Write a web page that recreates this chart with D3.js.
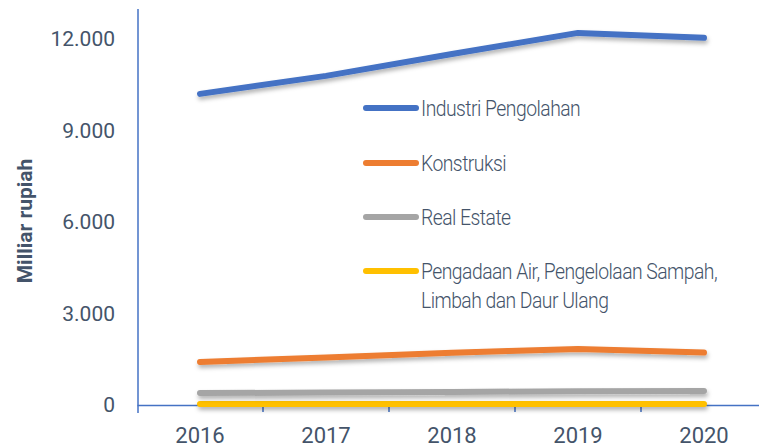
<!DOCTYPE html>
<html>
<head>
<meta charset="utf-8">
<script src="https://cdn.jsdelivr.net/npm/d3@7"></script>
<style>
  html, body { margin: 0; padding: 0; background: #fff; }
  svg { display: block; }
</style>
</head>
<body>
<svg id="chart" width="759" height="447"></svg>
<script>
// Tahun dan nilai per sektor (miliar rupiah)
const years = ["2016", "2017", "2018", "2019", "2020"];
const industriPengolahan = [10200, 10790, 11510, 12200, 12040];
const konstruksi = [1410, 1560, 1710, 1840, 1720];
const realEstate = [390, 410, 430, 450, 460];
const pengadaanAir = [30, 30, 30, 30, 30];
const yTicks = [0, 3000, 6000, 9000, 12000];
const seriesNames = [
  "Industri Pengolahan",
  "Konstruksi",
  "Real Estate",
  "Pengadaan Air, Pengelolaan Sampah, Limbah dan Daur Ulang"
];
const seriesColors = ["#4472C4", "#ED7D31", "#A5A5A5", "#FFC000"];

const series = [industriPengolahan, konstruksi, realEstate, pengadaanAir]
  .map((values, i) => ({ name: seriesNames[i], color: seriesColors[i], values }));

const svg = d3.select("#chart");
const textColor = "#44546A";
const axisColor = "#4472C4";
const font = "Roboto, 'Noto Sans', sans-serif";

const x = d3.scaleBand().domain(years).range([137, 767]).padding(0);
const y = d3.scaleLinear().domain([0, 12000]).range([405, 39]);

// soft drop shadow under the lines (user-space region so flat lines still render)
const defs = svg.append("defs");
const f = defs.append("filter").attr("id", "shadow")
  .attr("filterUnits", "userSpaceOnUse")
  .attr("x", 0).attr("y", 0).attr("width", 759).attr("height", 447);
f.append("feDropShadow").attr("dx", 1).attr("dy", 3).attr("stdDeviation", 2)
  .attr("flood-color", "#000").attr("flood-opacity", 0.3);

// y axis line (no ticks)
svg.append("line")
  .attr("x1", 138).attr("x2", 138).attr("y1", 9).attr("y2", 413)
  .attr("stroke", axisColor).attr("stroke-width", 1.5);

// y tick labels
const fmt = v => d3.format(",")(v).replace(/,/g, ".");
svg.append("g").selectAll("text").data(yTicks).join("text")
  .attr("x", 115).attr("y", d => y(d))
  .attr("dy", "0.35em")
  .attr("text-anchor", "end")
  .attr("font-family", font)
  .attr("font-size", 21)
  .attr("fill", textColor)
  .text(fmt);

// x axis
const xAxis = d3.axisBottom(x).tickSize(0).tickPadding(0);
const gx = svg.append("g").attr("transform", `translate(0,${y(0)})`).call(xAxis);
gx.select(".domain").attr("stroke", axisColor).attr("stroke-width", 1.5);
gx.selectAll(".tick text")
  .attr("font-family", font)
  .attr("font-size", 22)
  .attr("fill", textColor)
  .attr("y", 38)
  .attr("dy", 0);
// boundary ticks between categories
svg.append("g").selectAll("line").data(years.slice(1)).join("line")
  .attr("x1", d => x(d)).attr("x2", d => x(d))
  .attr("y1", y(0)).attr("y2", y(0) + 7)
  .attr("stroke", axisColor).attr("stroke-width", 1.5);

// series lines
const line = d3.line()
  .x((d, i) => x(years[i]) + x.bandwidth() / 2)
  .y(d => y(d));
svg.append("g").selectAll("path").data(series.slice().reverse()).join("path")
  .attr("d", d => line(d.values))
  .attr("fill", "none")
  .attr("stroke", d => d.color)
  .attr("stroke-width", 6)
  .attr("stroke-linecap", "round")
  .attr("stroke-linejoin", "round")
  .attr("filter", "url(#shadow)");

// y axis title
svg.append("text")
  .attr("transform", "translate(32,221) rotate(-90)")
  .attr("text-anchor", "middle")
  .attr("font-family", font)
  .attr("font-weight", 700)
  .attr("font-size", 21)
  .attr("fill", textColor)
  .text("Milliar rupiah");

// legend
const legendRows = [
  { s: series[0], y: 108, lines: ["Industri Pengolahan"] },
  { s: series[1], y: 163, lines: ["Konstruksi"] },
  { s: series[2], y: 217, lines: ["Real Estate"] },
  { s: series[3], y: 271, lines: ["Pengadaan Air, Pengelolaan Sampah,", "Limbah dan Daur Ulang"] }
];
const lg = svg.append("g");
legendRows.forEach(r => {
  lg.append("line")
    .attr("x1", 366).attr("x2", 416).attr("y1", r.y).attr("y2", r.y)
    .attr("stroke", r.s.color).attr("stroke-width", 6)
    .attr("stroke-linecap", "round");
  r.lines.forEach((t, i) => {
    lg.append("text")
      .attr("x", 0).attr("y", 0)
      .attr("transform", `translate(421,${r.y + i * 29}) scale(0.88,1)`)
      .attr("dy", "0.35em")
      .attr("font-family", font)
      .attr("font-weight", 300)
      .attr("font-size", 22)
      .attr("letter-spacing", -0.6)
      .attr("fill", textColor)
      .text(t);
  });
});
</script>
</body>
</html>
